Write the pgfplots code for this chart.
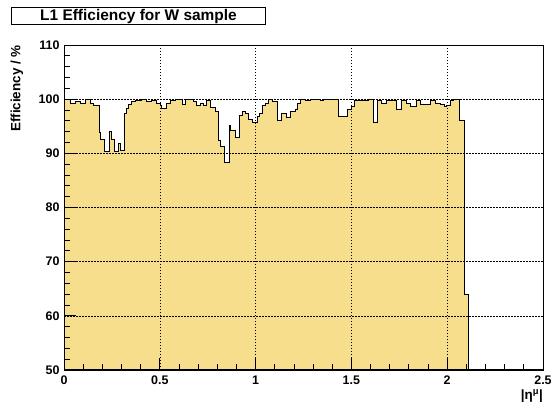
\documentclass[border=0pt]{standalone}
\usepackage{pgfplots}
\pgfplotsset{compat=1.18}
\usepackage{fontspec}
\setmainfont{Liberation Sans}
\definecolor{histfill}{RGB}{247,222,140}

\begin{document}
\begin{tikzpicture}
\path[use as bounding box] (-64bp,-41bp) rectangle (488bp,370bp);
\begin{axis}[
    at={(0bp,0bp)}, anchor=south west,
    scale only axis,
    width=479bp, height=325bp,
    xmin=0, xmax=2.5, ymin=50, ymax=110,
    xtick={0,0.5,1,1.5,2,2.5},
    ytick={50,60,70,80,90,100,110},
    minor x tick num=4, minor y tick num=4,
    tick align=inside, tick pos=left,
    major tick length=12bp, minor tick length=6bp,
    grid=major,
    major grid style={black, line width=0.6bp, dash pattern=on 1.5bp off 1.5bp},
    axis on top,
    axis line style={black, line width=0.9bp},
    tick style={black, line width=0.8bp},
    ticklabel style={font=\bfseries\fontsize{12.5}{14}\selectfont},
    xticklabel style={yshift=-2bp},
    yticklabel style={xshift=-1bp},
    /pgf/number format/assume math mode=true,
    ]
    % efficiency vs |eta|, read off as step edges
    \addplot[const plot, fill=histfill, draw=black, line width=0.8bp] coordinates {
        (0.000,100) (0.031,99.3) (0.057,99.6) (0.084,99.3) (0.110,100.0)
        (0.136,99.2) (0.153,98.9) (0.184,93.8) (0.192,92.6) (0.209,90.4)
        (0.237,94.0) (0.249,92.6) (0.261,90.4) (0.284,91.9) (0.296,90.5)
        (0.313,97.4) (0.324,98.3) (0.336,99.1) (0.353,99.5) (0.371,99.7)
        (0.406,100) (0.430,99.6) (0.455,99.8) (0.484,99.2) (0.501,98.8)
        (0.510,98.3) (0.536,99.2) (0.553,99.8) (0.580,100) (0.620,99.1)
        (0.632,100) (0.675,99.6) (0.693,98.8) (0.710,99.2) (0.727,98.8)
        (0.745,99.8) (0.762,98.5) (0.789,97.7) (0.806,92.4) (0.815,91.2)
        (0.836,88.4) (0.862,95.2) (0.870,94.3) (0.893,93.0) (0.915,97.0)
        (0.933,97.7) (0.945,97.3) (0.962,96.2) (0.985,95.8) (1.009,96.8)
        (1.020,97.4) (1.038,98.9) (1.050,99.3) (1.067,100) (1.090,99.6)
        (1.114,96.0) (1.137,97.4) (1.159,96.6) (1.184,97.7) (1.206,98.2)
        (1.218,99.3) (1.232,100) (1.258,99.8) (1.285,100) (1.337,99.7)
        (1.354,100) (1.432,96.9) (1.479,98.2) (1.502,98.6) (1.514,99.7)
        (1.537,99.8) (1.563,99.7) (1.589,100) (1.615,95.8) (1.636,99.7)
        (1.659,99.3) (1.685,99.7) (1.737,98.2) (1.763,99.7) (1.789,99.2)
        (1.810,98.6) (1.838,99.7) (1.859,99.1) (1.911,99.7) (1.937,99.2)
        (1.963,99.1) (1.984,98.7) (1.998,98.9) (2.016,99.7) (2.030,99.9)
        (2.064,96.0) (2.089,64.0) (2.111,64.0)
    } \closedcycle;
    \draw[black, line width=2bp] (rel axis cs:0,1) -- (rel axis cs:0,0) -- (rel axis cs:1,0);
\end{axis}
\node[draw, line width=1bp, minimum width=253bp, minimum height=17bp, inner sep=0pt,
      font=\bfseries\fontsize{15.5}{17}\selectfont] at (74.5bp,353.5bp) {L1 Efficiency for W sample};
\node[rotate=90, anchor=east, inner sep=0pt, font=\bfseries\fontsize{13.5}{15}\selectfont]
      at (-47bp,325bp) {Efficiency / \%};
\node[anchor=north east, inner sep=0pt, font=\bfseries\fontsize{13.5}{15}\selectfont]
      at (479bp,-19bp) {|η\textsuperscript{μ}|};
\end{tikzpicture}
\end{document}
